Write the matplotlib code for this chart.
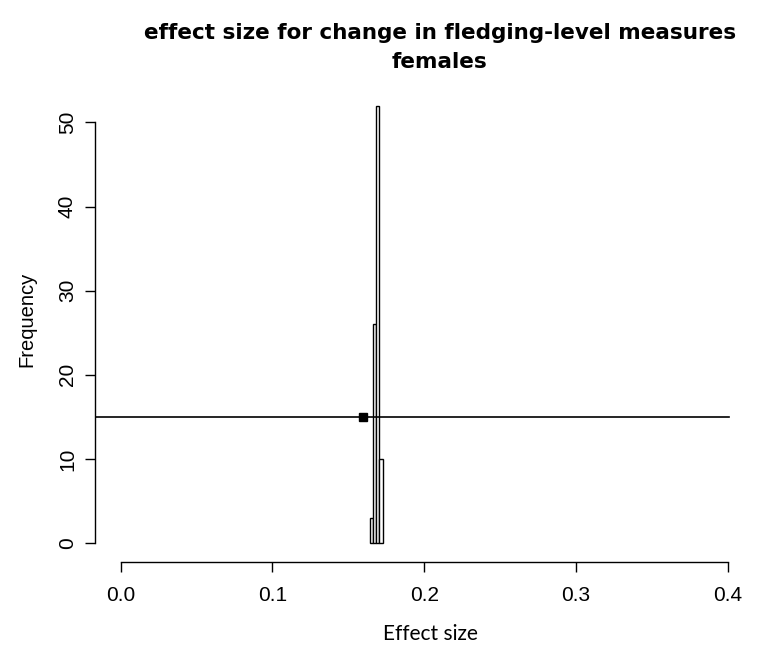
import matplotlib
matplotlib.use("Agg")
import matplotlib.pyplot as plt

# histogram of effect sizes (bin edges and counts)
bin_edges = [0.1642, 0.1663, 0.1684, 0.1705, 0.1726]
counts = [3, 26, 52, 10]

# point estimate and its interval line
point_x = 0.1596
point_y = 15
line_x = [-0.05, 0.401]

x_ticks = [0.0, 0.1, 0.2, 0.3, 0.4]
y_ticks = [0, 10, 20, 30, 40, 50]

title_1 = "effect size for change in fledging-level measures"
title_2 = "females"

W, H = 767, 651
fig = plt.figure(figsize=(W / 100, H / 100), dpi=100)
# plot region in pixels: left 95, right 767, top 49, bottom 562
ax = fig.add_axes([95 / W, (H - 562) / H, (767 - 95) / W, (562 - 49) / H])
ax.set_xlim(-0.0169, (767 - 120.7) / 1518)
ax.set_ylim(-2.26, (543 - 49) / 8.41)

widths = [b - a for a, b in zip(bin_edges[:-1], bin_edges[1:])]
ax.bar(bin_edges[:-1], counts, width=widths, align="edge",
       facecolor="white", edgecolor="black", linewidth=1)

ax.plot(line_x, [point_y, point_y], color="black", linewidth=1.2, clip_on=True)
ax.plot([point_x], [point_y], marker="s", color="black", markersize=6,
        linestyle="none")

# R-style axes
for s in ["top", "right"]:
    ax.spines[s].set_visible(False)
ax.spines["left"].set_bounds(0, 50)
ax.spines["bottom"].set_bounds(0, 0.4)
ax.spines["left"].set_linewidth(1)
ax.spines["bottom"].set_linewidth(1)

ax.set_xticks(x_ticks)
ax.set_xticklabels(["%.1f" % v for v in x_ticks], fontsize=15,
                   family="Liberation Sans")
ax.set_yticks(y_ticks)
ax.set_yticklabels([str(v) for v in y_ticks], fontsize=15,
                   family="Liberation Sans", rotation=90, va="center")
ax.tick_params(axis="both", length=7, width=1, direction="out")
ax.tick_params(axis="x", pad=10)
ax.tick_params(axis="y", pad=6)

fig.text(27 / W, 1 - 319 / H, "Frequency", rotation=90, ha="center",
         va="center", fontsize=14.5, family="Liberation Sans")
fig.text(430 / W, 1 - 634 / H, "Effect size", ha="center", va="center",
         fontsize=15, family="Lato")
fig.text(440 / W, 1 - 33 / H, title_1, ha="center", va="center",
         fontsize=15.5, fontweight="bold", family="DejaVu Sans")
fig.text(440 / W, 1 - 62 / H, title_2, ha="center", va="center",
         fontsize=15.5, fontweight="bold", family="DejaVu Sans")

fig.savefig("out.png", dpi=100)
